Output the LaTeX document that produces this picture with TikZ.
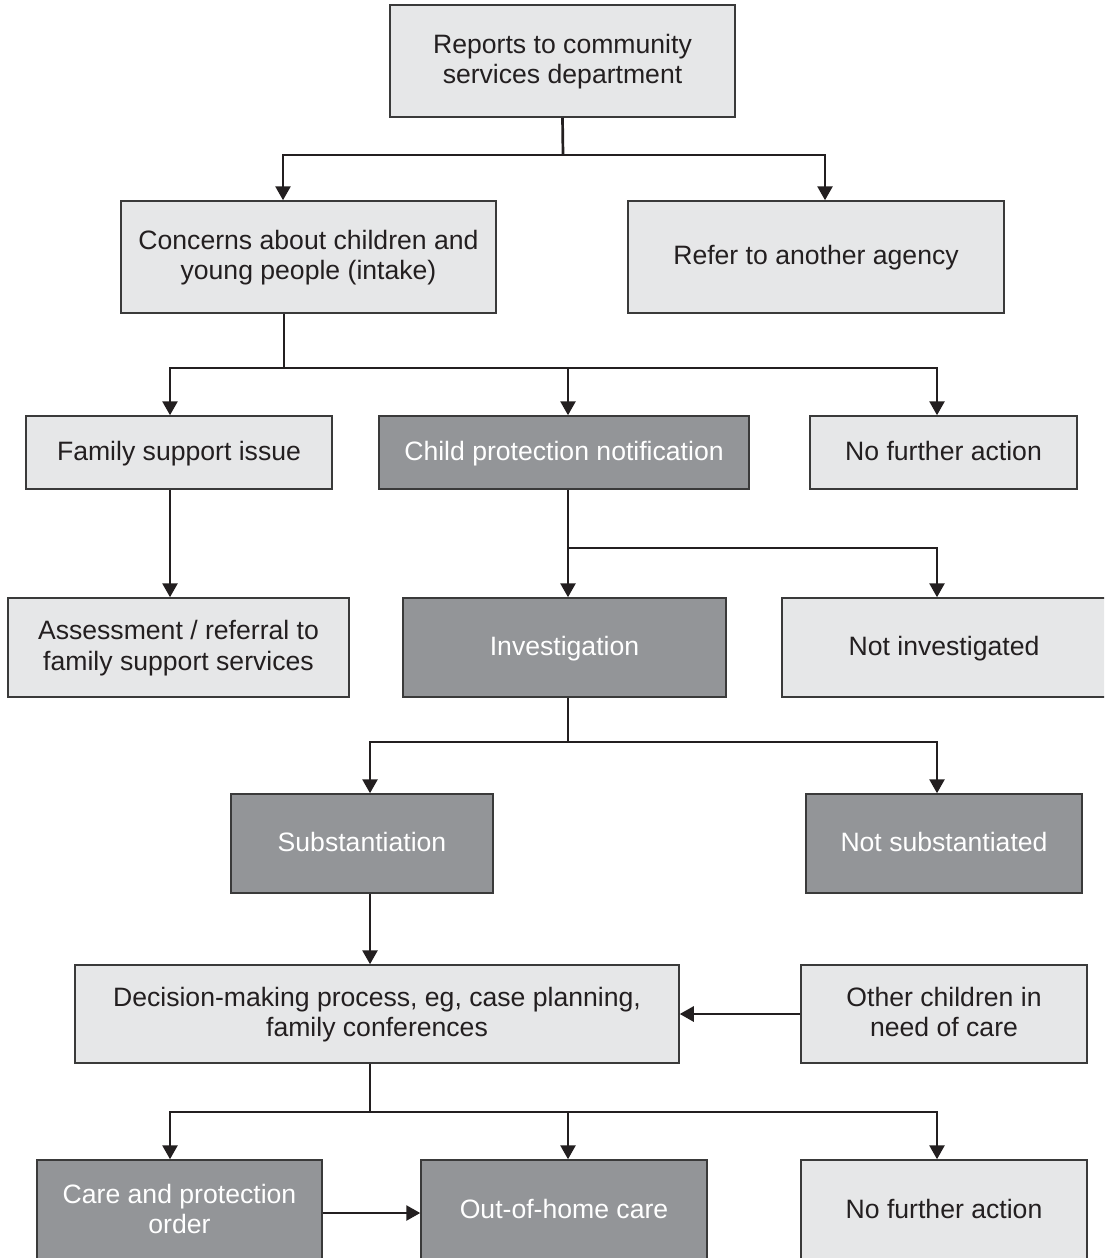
\documentclass[tikz,border=0pt]{standalone}
\usepackage{fontspec}
\setmainfont{Liberation Sans}
\usetikzlibrary{arrows.meta}
\definecolor{lightfill}{HTML}{E6E7E8}
\definecolor{darkfill}{HTML}{939598}
\definecolor{edgecol}{HTML}{3A3A3A}
\definecolor{ink}{HTML}{231F20}
\newcommand{\tstrut}{\rule{0pt}{11pt}}
\newcommand{\bstrut}{\rule[-3.5pt]{0pt}{3.5pt}}
\newcommand{\mybox}[7]{\node[#2, minimum width={(#5-#3)*0.5pt}, minimum height={(#6-#4)*0.5pt}] (#1) at ({(#3+#5)/2},{(#4+#6)/2}) {\tstrut#7\bstrut};}
\tikzset{
  basebox/.style={rectangle, draw=edgecol, line width=0.75pt, inner sep=0pt, align=center,
    font=\fontsize{13.3}{15.2}\selectfont},
  lbox/.style={basebox, fill=lightfill, text=ink},
  dbox/.style={basebox, fill=darkfill, text=white},
  conn/.style={draw=ink, line width=1.35pt},
  arr/.style={conn, -{Triangle[width=7.5pt,length=7pt]}},
}
\begin{document}
\begin{tikzpicture}[x=0.5pt,y=-0.5pt]
\useasboundingbox (0,0) rectangle (1104,1258);
\clip (0,0) rectangle (1104,1258);
\fill[white] (0,0) rectangle (1104,1258);
\mybox{rep}{lbox}{390}{5}{735}{117}{Reports to community\\services department}
\mybox{con}{lbox}{121}{201}{496}{313}{Concerns about children and\\young people (intake)}
\mybox{ref}{lbox}{628}{201}{1004}{313}{Refer to another agency}
\mybox{fam}{lbox}{26}{416}{332}{489}{Family support issue}
\mybox{cpn}{dbox}{379}{416}{749}{489}{Child protection notification}
\mybox{nfa}{lbox}{810}{416}{1077}{489}{No further action}
\mybox{ass}{lbox}{8}{598}{349}{697}{Assessment / referral to\\family support services}
\mybox{inv}{dbox}{403}{598}{726}{697}{Investigation}
\mybox{nin}{lbox}{782}{598}{1106}{697}{Not investigated}
\mybox{sub}{dbox}{231}{794}{493}{893}{Substantiation}
\mybox{nsub}{dbox}{806}{794}{1082}{893}{Not substantiated}
\mybox{dec}{lbox}{75}{965}{679}{1063}{Decision-making process, eg, case planning,\\family conferences}
\mybox{oth}{lbox}{801}{965}{1087}{1063}{Other children in\\need of care}
\mybox{cpo}{dbox}{37}{1160}{322}{1262}{Care and protection\\order}
\mybox{ooh}{dbox}{421}{1160}{707}{1262}{Out-of-home care}
\mybox{nfb}{lbox}{801}{1160}{1087}{1262}{No further action}

\coordinate (j1) at (563,155);
\coordinate (j2) at (284,368);
\coordinate (j3) at (568,548);
\coordinate (j4) at (568,742);
\coordinate (j5) at (370,1112);

\draw[conn] (rep.south) -- (j1);
\draw[arr] (j1) -| ([xshift=-12.75pt]con.north);
\draw[arr] (j1) -| ([xshift=4.5pt]ref.north);

\draw[conn] ([xshift=-12.25pt]con.south) -- (j2);
\draw[arr] (j2) -| ([xshift=-4.5pt]fam.north);
\draw[arr] (j2) -| ([xshift=2pt]cpn.north);
\draw[arr] (j2) -| ([xshift=-3.25pt]nfa.north);

\draw[arr] ([xshift=-4.5pt]fam.south) -- ([xshift=-4.5pt]fam.south |- ass.north);

\draw[arr] ([xshift=2pt]cpn.south) -- ([xshift=2pt]cpn.south |- inv.north);
\draw[arr] (j3) -| ([xshift=-3.5pt]nin.north);

\draw[conn] ([xshift=1.75pt]inv.south) -- (j4);
\draw[arr] (j4) -| ([xshift=4pt]sub.north);
\draw[arr] (j4) -| ([xshift=-3.5pt]nsub.north);

\draw[arr] ([xshift=4pt]sub.south) -- ([xshift=4pt]sub.south |- dec.north);
\draw[arr] (oth.west) -- (dec.east);

\draw[conn] ([xshift=-3.5pt]dec.south) -- (j5);
\draw[arr] (j5) -| ([xshift=-4.75pt]cpo.north);
\draw[arr] (j5) -| ([xshift=2pt]ooh.north);
\draw[arr] (j5) -| ([xshift=-3.5pt]nfb.north);

\draw[arr] ([yshift=-1pt]cpo.east) -- ([yshift=-1pt]ooh.west);
\end{tikzpicture}
\end{document}
